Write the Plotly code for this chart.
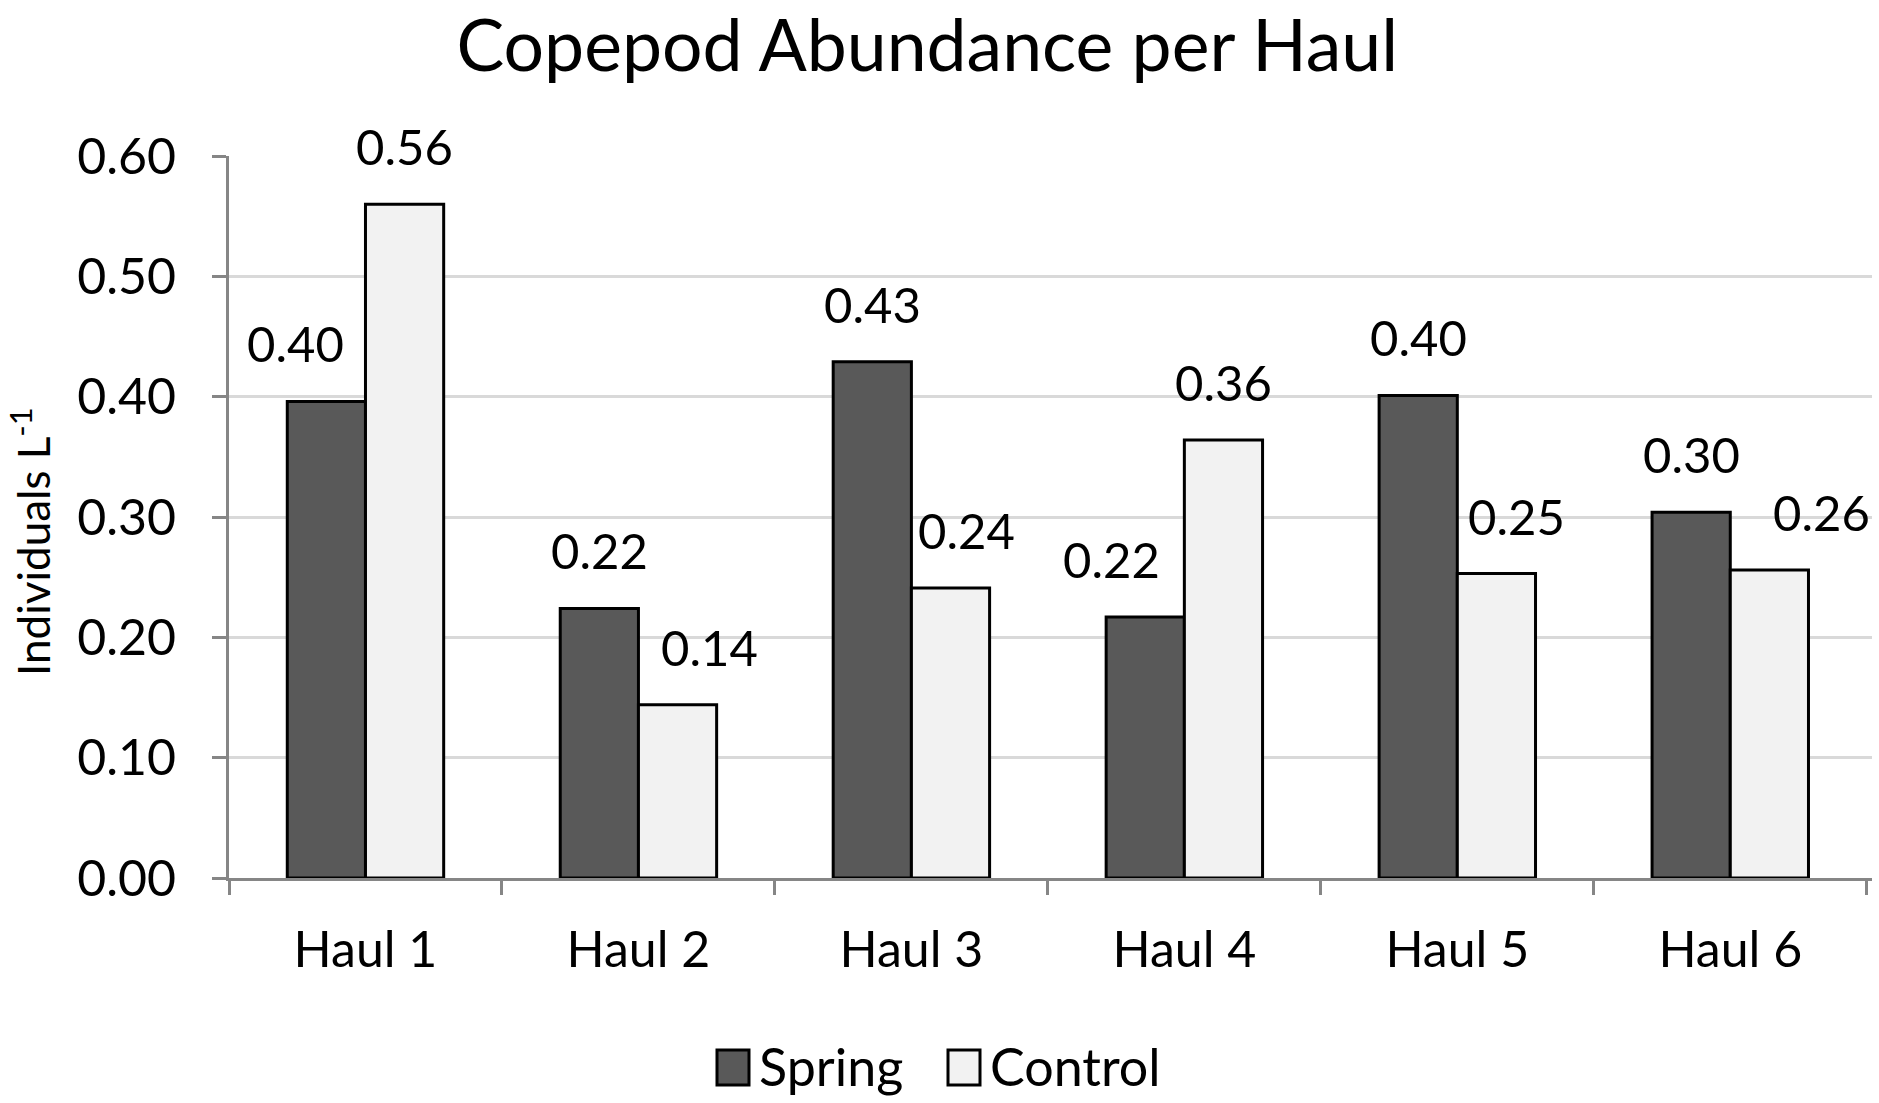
import plotly.graph_objects as go

categories = ["Haul 1", "Haul 2", "Haul 3", "Haul 4", "Haul 5", "Haul 6"]
spring = [0.396, 0.224, 0.429, 0.217, 0.401, 0.304]
control = [0.560, 0.144, 0.241, 0.364, 0.253, 0.256]
y_ticks = [0.0, 0.1, 0.2, 0.3, 0.4, 0.5, 0.6]
series_names = ["Spring", "Control"]
series_colors = ["#595959", "#f2f2f2"]

# label nudges (px) relative to the bar centre, as placed in the original
spring_nudge = [-31, 0, 0, -34, 0, 0]
control_nudge = [0, 32, 16, 0, 20, 52]

FONT = "Lato"
W, H = 1879, 1103
ML, MR, MT, MB = 229, 7, 156, 225
bargap = 0.427
plot_w = W - ML - MR
plot_h = H - MT - MB
cat_w = plot_w / len(categories)
bar_w = cat_w * (1 - bargap) / 2


def px_x(px):
    return (px - ML) / plot_w


def px_y(py):
    return (H - MB - py) / plot_h


fig = go.Figure()
for name, vals, col in zip(series_names, (spring, control), series_colors):
    fig.add_trace(go.Bar(name=name, x=categories, y=vals, showlegend=False,
                         marker=dict(color=col, line=dict(color="#000000", width=3))))

annotations = []
for vals, sign, nudges in ((spring, -1, spring_nudge), (control, 1, control_nudge)):
    for c, v, n in zip(categories, vals, nudges):
        annotations.append(dict(x=c, y=v, xref="x", yref="y", text=f"{v:.2f}",
                                showarrow=False, xanchor="center", yanchor="middle",
                                xshift=sign * bar_w / 2 + n, yshift=58,
                                font=dict(family=FONT, size=49, color="#000000")))

# y-axis title
annotations.append(dict(x=0, y=0.5, xref="paper", yref="paper", text="Individuals L<sup>-1</sup>",
                        textangle=-90, showarrow=False, xanchor="center", yanchor="middle",
                        xshift=30 - ML, yshift=-25,
                        font=dict(family=FONT, size=44, color="#000000")))

# legend (square swatches like the original)
shapes = []
legend_swatch_left = [717, 948]
for name, col, left in zip(series_names, series_colors, legend_swatch_left):
    shapes.append(dict(type="rect", xref="paper", yref="paper",
                       x0=px_x(left), x1=px_x(left + 32), y0=px_y(1085), y1=px_y(1050),
                       fillcolor=col, line=dict(color="#000000", width=3)))
    annotations.append(dict(x=px_x(left + 40), y=px_y(1066), xref="paper", yref="paper",
                            text=name, showarrow=False, xanchor="left", yanchor="middle",
                            font=dict(family=FONT, size=52, color="#000000")))

fig.update_layout(
    width=W, height=H,
    margin=dict(l=ML, r=MR, t=MT, b=MB),
    paper_bgcolor="white", plot_bgcolor="white",
    barmode="group", bargap=bargap, bargroupgap=0,
    title=dict(text="Copepod Abundance per Haul", x=0.4935, xanchor="center",
               y=1 - 46 / H, yanchor="middle", yref="container",
               font=dict(family=FONT, size=71.5, color="#000000")),
    font=dict(family=FONT, color="#000000"),
    showlegend=False,
    annotations=annotations,
    shapes=shapes,
)
fig.update_xaxes(showline=True, linecolor="#868686", linewidth=3, automargin=False,
                 ticks="outside", tickson="boundaries", ticklen=14, tickwidth=3,
                 tickcolor="#868686", showgrid=False,
                 tickfont=dict(family=FONT, size=50, color="#000000"),
                 ticklabelstandoff=26)
fig.update_yaxes(range=[0, 0.6], tickvals=y_ticks, tickformat=".2f", automargin=False,
                 showline=True, linecolor="#868686", linewidth=3,
                 ticks="outside", ticklen=14, tickwidth=3, tickcolor="#868686",
                 showgrid=True, gridcolor="#d9d9d9", gridwidth=3, zeroline=False,
                 tickfont=dict(family=FONT, size=50, color="#000000"),
                 ticklabelstandoff=26)

fig.write_html("out.html", config={"displayModeBar": False},
               post_script="document.body.style.margin='0';")
